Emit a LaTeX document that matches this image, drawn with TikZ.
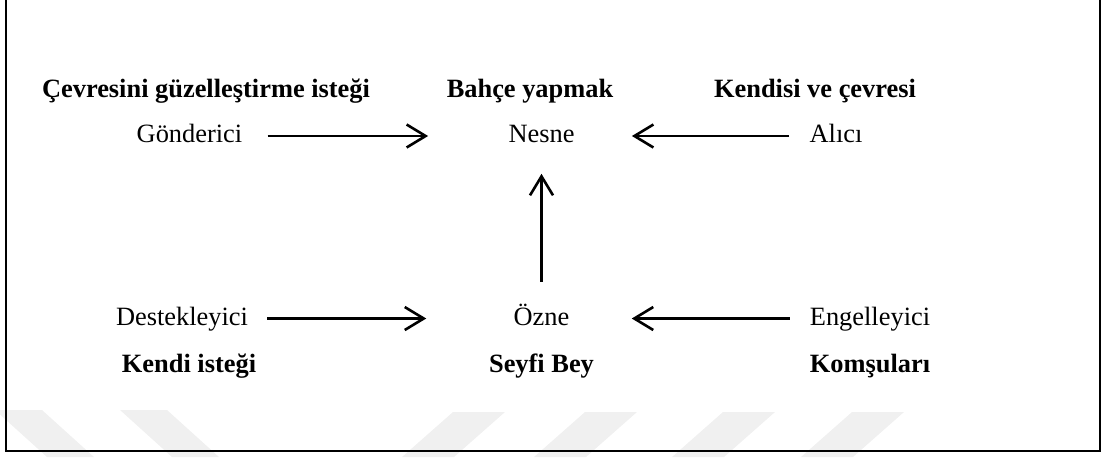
\documentclass[tikz,border=0pt]{standalone}
\usepackage{fontspec}
\setmainfont{Liberation Serif}
\usepackage{tikz}
\usetikzlibrary{arrows.meta, positioning}

\begin{document}
\begin{tikzpicture}[
    x=0.5pt, y=0.5pt,
    on grid,
    role/.style={inner sep=0pt, text height=9.2pt, text depth=2.6pt, font=\fontsize{13.2pt}{16pt}\selectfont},
    actor/.style={role, font=\fontsize{13.2pt}{16pt}\selectfont\bfseries},
    arrow/.style={line width=1.3pt, -{Straight Barb[length=9.5pt,width=11.5pt]}},
    wmark/.style={fill=black!6}
]
\useasboundingbox (0,0) rectangle (1106,-457);

% faint watermark at the bottom
\foreach \x in {-5,120}
    \fill[wmark] (\x,-410) -- ++(47,0) -- ++(52,-47) -- ++(-47,0) -- cycle;
\foreach \x in {453,585,723,852}
    \fill[wmark] (\x,-412) -- ++(52,0) -- ++(-51,-45) -- ++(-52,0) -- cycle;

% actants
\node[role] (gonderici) at (189.5,-136) {Gönderici};
\node[role] (nesne) at (541.5,-136) {Nesne};
\node[role] (alici) at (836,-136) {Alıcı};
\node[role] (destek) at (182,-318.5) {Destekleyici};
\node[role] (ozne) at (541.5,-318.5) {Özne};
\node[role] (engel) at (870,-318.5) {Engelleyici};

\node[actor, above=22.5pt of gonderici, xshift=8.25pt] (istek) {Çevresini güzelleştirme isteği};
\node[actor, above=22.5pt of nesne, xshift=-5.75pt] (bahce) {Bahçe yapmak};
\node[actor, above=22.5pt of alici, xshift=-10.5pt] (cevre) {Kendisi ve çevresi};
\node[actor, below=23.5pt of destek, xshift=3.5pt] (kendi) {Kendi isteği};
\node[actor, below=23.5pt of ozne] (seyfi) {Seyfi Bey};
\node[actor, below=23.5pt of engel] (komsu) {Komşuları};

\draw[arrow, shorten <=12.5pt, shorten >=40pt] (gonderici.east) -- (nesne.west);
\draw[arrow, shorten <=10pt, shorten >=28.5pt] (alici.west) -- (nesne.east);
\draw[arrow, shorten <=9.5pt, shorten >=43.5pt] (destek.east) -- (ozne.west);
\draw[arrow, shorten <=10pt, shorten >=31pt] (engel.west) -- (ozne.east);
\draw[arrow, shorten <=12.3pt, shorten >=12.8pt] (ozne.north) -- (nesne.south);

% frame, its top edge is cut off
\draw[line width=1.2pt] (6,0) -- (6,-451) -- (1100,-451) -- (1100,0);
\end{tikzpicture}
\end{document}
